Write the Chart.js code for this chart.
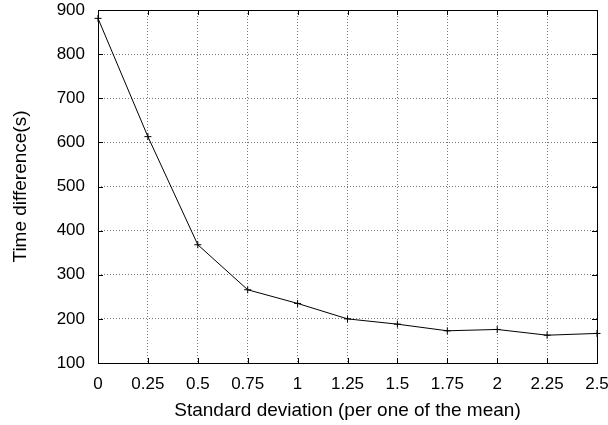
<!DOCTYPE html>
<html>
<head>
<meta charset="utf-8">
<script src="https://cdn.jsdelivr.net/npm/chart.js@4/dist/chart.umd.min.js"></script>
<style>
  body { margin: 0; background: #fff; }
  #wrap { width: 608px; height: 425px; }
</style>
</head>
<body>
<div id="wrap"><canvas id="chart" width="608" height="425"></canvas></div>
<script>
const stdDev = [0, 0.25, 0.5, 0.75, 1, 1.25, 1.5, 1.75, 2, 2.25, 2.5];
const timeDiff = [881, 613, 368, 266, 235, 200, 188, 173, 176, 163, 167];
const xTickValues = [0, 0.25, 0.5, 0.75, 1, 1.25, 1.5, 1.75, 2, 2.25, 2.5];
const yTickValues = [100, 200, 300, 400, 500, 600, 700, 800, 900];

const FONT = "'Liberation Sans', Arial, Helvetica, sans-serif";

// gnuplot-like frame with inward ticks on all four sides
const framePlugin = {
    id: 'frame',
    afterDatasetsDraw(chart) {
        const { ctx, chartArea: a, scales } = chart;
        const len = 5;
        ctx.save();
        ctx.strokeStyle = '#000';
        ctx.lineWidth = 1;
        ctx.beginPath();
        xTickValues.forEach(v => {
            const px = Math.round(scales.x.getPixelForValue(v)) + 0.5;
            ctx.moveTo(px, a.bottom); ctx.lineTo(px, a.bottom - len);
            ctx.moveTo(px, a.top); ctx.lineTo(px, a.top + len);
        });
        yTickValues.forEach(v => {
            const py = Math.round(scales.y.getPixelForValue(v)) + 0.5;
            ctx.moveTo(a.left, py); ctx.lineTo(a.left + len, py);
            ctx.moveTo(a.right, py); ctx.lineTo(a.right - len, py);
        });
        ctx.stroke();
        ctx.strokeRect(Math.round(a.left) + 0.5, Math.round(a.top) + 0.5,
            Math.round(a.right - a.left), Math.round(a.bottom - a.top));
        ctx.restore();
    }
};

const points = stdDev.map((x, i) => ({ x, y: timeDiff[i] }));

new Chart(document.getElementById('chart'), {
    type: 'line',
    data: {
        datasets: [{
            data: points,
            borderColor: '#000',
            backgroundColor: '#000',
            borderWidth: 1,
            tension: 0,
            pointStyle: 'cross',
            pointRadius: 3.5,
            pointBorderWidth: 1,
            pointBorderColor: '#000',
            clip: false
        }]
    },
    options: {
        responsive: false,
        animation: false,
        events: [],
        layout: { padding: { top: 10, right: 11, left: 0, bottom: 0 } },
        plugins: { legend: { display: false }, tooltip: { enabled: false } },
        scales: {
            x: {
                type: 'linear',
                min: 0,
                max: 2.5,
                afterBuildTicks: s => { s.ticks = xTickValues.map(v => ({ value: v })); },
                afterFit: s => { s.height = 62; s.paddingLeft = 0; s.paddingRight = 0; },
                ticks: {
                    padding: 11,
                    color: '#000',
                    maxRotation: 0,
                    autoSkip: false,
                    font: { family: FONT, size: 17 },
                    callback: v => String(v)
                },
                grid: { color: '#777', lineWidth: 1, drawTicks: false },
                border: { display: false, dash: [1, 2] },
                title: {
                    display: true,
                    text: 'Standard deviation (per one of the mean)',
                    color: '#000',
                    font: { family: FONT, size: 19 },
                    padding: { top: 0, bottom: 3 }
                }
            },
            y: {
                min: 100,
                max: 900,
                afterBuildTicks: s => { s.ticks = yTickValues.map(v => ({ value: v })); },
                afterFit: s => { s.width = 98; s.paddingTop = 0; s.paddingBottom = 0; },
                ticks: {
                    padding: 13,
                    color: '#000',
                    font: { family: FONT, size: 17 }
                },
                grid: { color: '#777', lineWidth: 1, drawTicks: false },
                border: { display: false, dash: [1, 2] },
                title: {
                    display: true,
                    text: 'Time difference(s)',
                    color: '#000',
                    font: { family: FONT, size: 19 },
                    padding: { top: 9, bottom: 0 }
                }
            }
        }
    },
    plugins: [framePlugin]
});
</script>
</body>
</html>
